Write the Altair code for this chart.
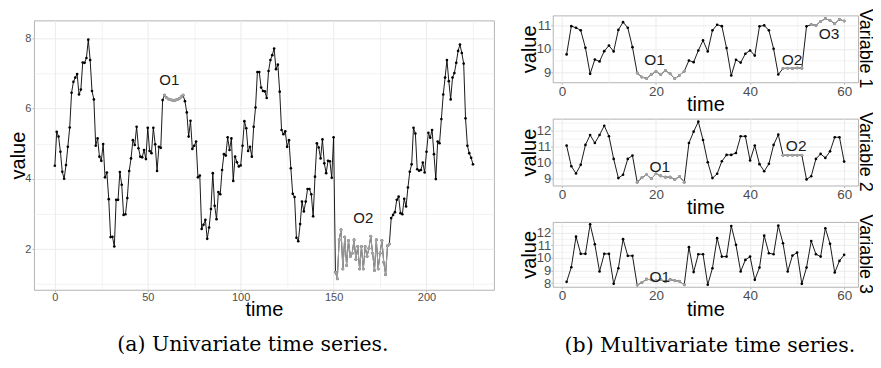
import altair as alt
import pandas as pd

# ---------------- data ----------------
# (a) univariate series, time 0..225
uni_start = 0
uni_values = [
    4.37, 5.34, 5.20, 4.77, 4.20, 4.00, 4.39, 4.91, 5.46, 6.45,
    6.76, 6.88, 6.98, 6.40, 6.54, 7.31, 7.30, 7.44, 7.96, 7.38,
    6.50, 6.26, 4.94, 5.15, 4.63, 4.51, 4.99, 4.04, 4.18, 3.42,
    2.34, 2.35, 2.07, 3.40, 3.40, 4.19, 3.83, 2.97, 2.99, 3.45,
    4.22, 4.58, 5.10, 4.96, 5.48, 4.87, 4.63, 4.61, 4.82, 4.56,
    5.45, 4.79, 4.73, 5.45, 4.98, 4.22, 4.91, 4.88, 6.24, 6.38,
    6.31, 6.27, 6.25, 6.24, 6.22, 6.24, 6.26, 6.29, 6.33, 6.38,
    6.21, 5.89, 5.20, 5.65, 4.85, 4.94, 5.06, 4.04, 4.09, 2.57,
    2.69, 2.83, 2.29, 2.61, 3.14, 4.16, 3.23, 2.85, 3.62, 3.56,
    4.25, 4.70, 4.66, 5.18, 4.82, 5.15, 3.94, 4.63, 4.47, 4.35,
    4.38, 4.94, 5.64, 5.44, 4.79, 4.91, 4.63, 5.48, 6.03, 7.04,
    7.04, 6.60, 6.50, 6.49, 6.30, 7.07, 7.38, 7.52, 7.71, 7.12,
    7.25, 6.48, 5.39, 5.27, 5.35, 4.91, 5.10, 4.30, 3.57, 3.48,
    2.32, 2.22, 2.71, 3.35, 3.07, 3.35, 3.71, 3.71, 3.56, 2.93,
    4.06, 5.01, 4.89, 4.58, 5.12, 4.44, 4.16, 4.51, 4.50, 4.03,
    5.18,
    1.34, 1.15, 2.26, 2.55, 1.43, 2.34, 1.53, 2.24, 1.79, 1.88,
    2.26, 1.70, 2.07, 1.43, 2.07, 1.43, 2.07, 1.79, 2.02, 2.36,
    1.88, 1.39, 2.26, 1.43, 1.88, 2.24, 1.62, 1.27, 2.09, 2.14,
    2.88, 2.97, 3.05, 3.40, 3.49, 3.02, 2.99, 3.43, 3.21, 3.75,
    4.20, 4.41, 5.45, 5.29, 4.27, 4.23, 4.25, 4.46, 4.18, 4.77,
    5.31, 5.17, 5.39, 4.70, 3.99, 5.06, 5.01, 5.70, 6.40, 6.88,
    7.38, 6.78, 6.26, 6.88, 7.01, 7.30, 7.64, 7.82, 7.58, 7.28,
    5.72, 4.94, 4.73, 4.60, 4.41,
]
uni_out_names = ["O1", "O2"]
uni_out_start = [59, 151]
uni_out_end = [69, 180]
uni_label_time = [61.6, 166.0]
uni_label_value = [6.81, 2.88]

# (b) multivariate series, time 1..60
multi_start = 1
var_names = ["Variable 1", "Variable 2", "Variable 3"]
var1_values = [
    9.76, 10.97, 10.90, 10.79, 10.04, 8.93, 9.54, 9.46, 9.90, 10.14,
    9.89, 10.81, 11.14, 10.90, 10.07, 8.96, 8.79, 8.73, 8.90, 9.03,
    8.90, 9.07, 8.93, 8.72, 8.87, 9.04, 9.50, 9.43, 9.93, 10.36,
    9.89, 10.79, 11.03, 10.97, 10.03, 8.86, 9.53, 9.41, 9.79, 9.93,
    9.71, 10.96, 11.00, 10.79, 10.00, 8.90, 9.16, 9.17, 9.16, 9.18,
    9.17, 10.96, 11.04, 11.00, 11.17, 11.29, 11.21, 11.07, 11.26, 11.19,
]
var2_values = [
    11.07, 9.78, 9.33, 9.87, 11.11, 11.73, 11.23, 11.73, 12.31, 11.65,
    10.24, 9.04, 9.25, 10.24, 10.45, 8.79, 9.06, 9.25, 9.00, 9.31,
    9.18, 9.10, 9.10, 8.96, 9.14, 8.79, 11.23, 11.94, 12.56, 11.42,
    10.03, 9.04, 9.31, 10.09, 10.49, 10.49, 10.61, 11.65, 11.65, 10.14,
    11.07, 9.91, 9.47, 9.93, 11.11, 11.75, 10.47, 10.47, 10.47, 10.47,
    10.47, 8.96, 9.16, 10.24, 10.55, 10.30, 10.71, 11.59, 11.59, 10.07,
]
var3_values = [
    8.10, 9.26, 11.68, 10.32, 10.32, 12.66, 11.08, 8.92, 10.32, 10.32,
    7.94, 9.18, 11.48, 10.16, 10.16, 7.84, 8.05, 8.31, 8.26, 8.18,
    8.28, 8.12, 8.27, 8.20, 8.15, 7.86, 10.85, 8.87, 10.29, 10.29,
    7.87, 9.18, 11.56, 10.10, 10.10, 12.53, 11.03, 8.92, 9.84, 10.10,
    8.26, 9.23, 11.76, 10.37, 10.29, 12.55, 11.16, 8.92, 10.18, 10.42,
    7.94, 9.23, 11.34, 10.29, 10.10, 12.35, 11.11, 8.84, 9.76, 10.24,
]
var1_out_names = ["O1", "O2", "O3"]
var1_out_start = [16, 47, 53]
var1_out_end = [26, 51, 60]
var1_label_time = [19.7, 48.9, 56.8]
var1_label_value = [9.5, 9.5, 10.64]
var2_out_names = ["O1", "O2"]
var2_out_start = [16, 47]
var2_out_end = [26, 51]
var2_label_time = [20.8, 49.8]
var2_label_value = [9.72, 11.03]
var3_out_names = ["O1"]
var3_out_start = [16]
var3_out_end = [26]
var3_label_time = [20.8]
var3_label_value = [8.52]

caption_a = "(a) Univariate time series."
caption_b = "(b) Multivariate time series."

# ---------------- styling ----------------
FONT = "Liberation Sans"
SERIF = "DejaVu Serif"
GRAY = "#a3a3a3"
GRID = "#ebebeb"


def make_axis(title, values, major, label_size, title_size, title_pad, label_pad):
    cond = f"abs(datum.value / {major} - round(datum.value / {major})) < 0.000001"
    return alt.Axis(
        title=title,
        values=values,
        labelExpr=f"{cond} ? format(datum.value, '.0f') : ''",
        gridColor=GRID,
        gridWidth={"condition": {"test": cond, "value": 1.0}, "value": 0.6},
        tickOpacity={"condition": {"test": cond, "value": 1}, "value": 0},
        tickColor="#b3b3b3",
        tickSize=2,
        labelFontSize=label_size,
        labelColor="#4d4d4d",
        labelFont=FONT,
        labelPadding=label_pad,
        labelFlush=False,
        labelOverlap=False,
        titleFontSize=title_size,
        titleFont=FONT,
        titleFontWeight="normal",
        titleColor="black",
        titlePadding=title_pad,
        domain=False,
    )


def panel(values, start, names, o_start, o_end, lab_t, lab_v,
          xdom, ydom, xaxis, yaxis, w, h, lab_size):
    times = list(range(start, start + len(values)))
    df = pd.DataFrame({"time": times, "value": values})
    rows = []
    for n, a, b in zip(names, o_start, o_end):
        for t, v in zip(times, values):
            if a <= t <= b:
                rows.append({"time": t, "value": v, "seg": n})
    odf = pd.DataFrame(rows)
    ldf = pd.DataFrame({"time": lab_t, "value": lab_v, "name": names})

    x = alt.X("time:Q", scale=alt.Scale(domain=xdom, nice=False, zero=False), axis=xaxis)
    y = alt.Y("value:Q", scale=alt.Scale(domain=ydom, nice=False, zero=False), axis=yaxis)

    line = alt.Chart(df).mark_line(color="black", strokeWidth=0.9).encode(x=x, y=y)
    pts = alt.Chart(df).mark_circle(color="black", size=7, opacity=1).encode(x=x, y=y)
    oline = alt.Chart(odf).mark_line(color=GRAY, strokeWidth=1).encode(x=x, y=y, detail="seg:N")
    opts = alt.Chart(odf).mark_circle(color=GRAY, size=9, opacity=1).encode(x=x, y=y)
    txt = alt.Chart(ldf).mark_text(fontSize=lab_size, font=FONT, color="#1a1a1a").encode(
        x=x, y=y, text="name:N")
    return alt.layer(line, pts, oline, opts, txt).properties(width=w, height=h)


# ---------------- left chart ----------------
left = panel(
    uni_values, uni_start, uni_out_names, uni_out_start, uni_out_end,
    uni_label_time, uni_label_value,
    xdom=[-11.25, 236.25], ydom=[0.84, 8.51],
    xaxis=make_axis("time", list(range(0, 226, 25)), 50, 11, 20, -3, 0),
    yaxis=make_axis("value", list(range(1, 9)), 2, 11, 20, -4, 1),
    w=461, h=270, lab_size=15,
).properties(title=alt.TitleParams(
    caption_a, orient="bottom", anchor="middle", font=SERIF, fontSize=20.5,
    fontWeight="normal", color="black", offset=15.5, dx=-11))

spacer = alt.Chart(pd.DataFrame({"a": [0]})).mark_rule(opacity=0, strokeOpacity=0).encode(
    x=alt.value(0), y=alt.value(0), y2=alt.value(1)
).properties(width=461, height=1, view=alt.ViewBackground(stroke=None, strokeWidth=0))

left_col = alt.vconcat(spacer, left, spacing=4, bounds="flush")

# ---------------- right charts ----------------
right_specs = [
    (var1_values, var1_out_names, var1_out_start, var1_out_end, var1_label_time, var1_label_value,
     [8.57, 11.43], [9, 9.5, 10, 10.5, 11], 67),
    (var2_values, var2_out_names, var2_out_start, var2_out_end, var2_label_time, var2_label_value,
     [8.58, 12.75], [9, 9.5, 10, 10.5, 11, 11.5, 12, 12.5], 67),
    (var3_values, var3_out_names, var3_out_start, var3_out_end, var3_label_time, var3_label_value,
     [7.71, 12.85], [8, 8.5, 9, 9.5, 10, 10.5, 11, 11.5, 12, 12.5], 65),
]
right_panels = []
for name, (vals, nm, os_, oe, lt, lv, ydom, yvals, h) in zip(var_names, right_specs):
    p = panel(
        vals, multi_start, nm, os_, oe, lt, lv,
        xdom=[-1.95, 62.95], ydom=ydom,
        xaxis=make_axis("time", [0, 10, 20, 30, 40, 50, 60], 20, 13.5, 20, -3, 0),
        yaxis=make_axis("value", yvals, 1, 13, 20, -3, 0),
        w=306, h=h, lab_size=15.5,
    ).properties(title=alt.TitleParams(
        name, orient="right", anchor="middle", font=FONT, fontSize=18,
        fontWeight="normal", color="black", offset=-2.5))
    right_panels.append(p)

right_col = alt.vconcat(*right_panels, spacing=36.5, bounds="flush").properties(
    title=alt.TitleParams(
        caption_b, orient="bottom", anchor="middle", frame="bounds", font=SERIF,
        fontSize=20.5, fontWeight="normal", color="black", offset=16, dx=13.5))

chart = alt.hconcat(left_col, right_col, spacing=24).properties(
    padding={"left": 0, "top": 0, "right": -1, "bottom": 0},
    background="white",
).configure_view(stroke="#b3b3b3", strokeWidth=1)

chart.save("out.html", embed_options={"renderer": "svg", "actions": False})
